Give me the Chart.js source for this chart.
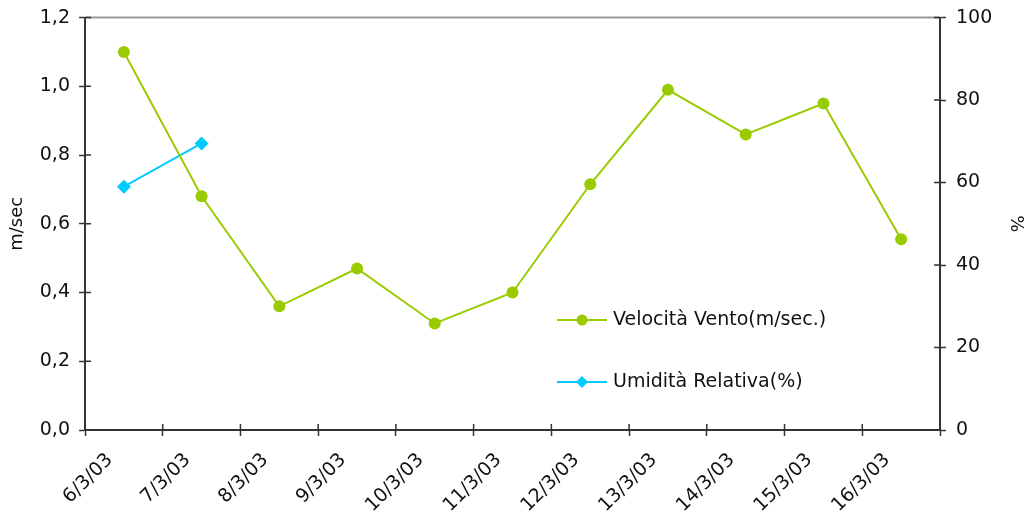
<!DOCTYPE html>
<html>
<head>
<meta charset="utf-8">
<script src="https://cdn.jsdelivr.net/npm/chart.js@4"></script>
<style>
  html, body { margin: 0; padding: 0; background: #fff; }
  #wrap { width: 1032px; height: 522px; }
</style>
</head>
<body>
<div id="wrap"><canvas id="myChart" width="1032" height="522"></canvas></div>
<script>
// data
const giorni = ['6/3/03', '7/3/03', '8/3/03', '9/3/03', '10/3/03', '11/3/03', '12/3/03', '13/3/03', '14/3/03', '15/3/03', '16/3/03'];
const velocita = [1.10, 0.68, 0.36, 0.47, 0.31, 0.40, 0.715, 0.99, 0.86, 0.95, 0.555];
const umidita = [59, 69.5, null, null, null, null, null, null, null, null, null];
const ticksSinistra = [0, 0.2, 0.4, 0.6, 0.8, 1.0, 1.2];
const ticksDestra = [0, 20, 40, 60, 80, 100];

const verde = '#99cc00';
const azzurro = '#00ccff';
const font = 'DejaVu Sans';

// legend inside the plot area + inward half of the tick marks
const legendaInterna = {
  id: 'legendaInterna',
  afterDraw(chart) {
    const ctx = chart.ctx;
    const area = chart.chartArea;
    ctx.save();
    // grey top border of plot area
    ctx.strokeStyle = '#999';
    ctx.lineWidth = 2;
    ctx.beginPath();
    ctx.moveTo(area.left, area.top);
    ctx.lineTo(area.right, area.top);
    ctx.stroke();

    // ticks crossing the axes
    ctx.strokeStyle = '#333';
    ctx.lineWidth = 1.5;
    ctx.beginPath();
    const sx = chart.scales.x;
    for (let i = 0; i <= giorni.length; i++) {
      const px = sx.getPixelForTick(0) + (i - 0.5) * (sx.getPixelForTick(1) - sx.getPixelForTick(0));
      ctx.moveTo(px, area.bottom);
      ctx.lineTo(px, area.bottom - 6);
    }
    ticksSinistra.forEach(v => {
      const py = chart.scales.y.getPixelForValue(v);
      ctx.moveTo(area.left, py);
      ctx.lineTo(area.left + 6, py);
    });
    ticksDestra.forEach(v => {
      const py = chart.scales.y1.getPixelForValue(v);
      ctx.moveTo(area.right, py);
      ctx.lineTo(area.right - 6, py);
    });
    ctx.stroke();

    const voci = [
      {text: 'Velocità Vento(m/sec.)', color: verde, style: 'circle', y: 320},
      {text: 'Umidità Relativa(%)', color: azzurro, style: 'diamond', y: 382}
    ];
    voci.forEach(v => {
      ctx.strokeStyle = v.color;
      ctx.lineWidth = 2;
      ctx.beginPath();
      ctx.moveTo(557, v.y);
      ctx.lineTo(607, v.y);
      ctx.stroke();
      ctx.fillStyle = v.color;
      ctx.beginPath();
      if (v.style === 'circle') {
        ctx.arc(582, v.y, 5.5, 0, Math.PI * 2);
      } else {
        ctx.moveTo(582, v.y - 6);
        ctx.lineTo(588, v.y);
        ctx.lineTo(582, v.y + 6);
        ctx.lineTo(576, v.y);
        ctx.closePath();
      }
      ctx.fill();
      ctx.fillStyle = '#111';
      ctx.font = '19px "' + font + '"';
      ctx.textBaseline = 'middle';
      ctx.textAlign = 'left';
      ctx.fillText(v.text, 613, v.y);
    });
    ctx.restore();
  }
};

function makeChart() {
  Chart.defaults.font.family = font;
  Chart.defaults.color = '#111';
  let ctx = document.getElementById('myChart').getContext('2d');
  new Chart(ctx, {
    type: 'line',
    data: {
      labels: giorni,
      datasets: [
        {
          label: 'Velocità Vento(m/sec.)',
          data: velocita,
          yAxisID: 'y',
          borderColor: verde,
          backgroundColor: verde,
          borderWidth: 2,
          pointStyle: 'circle',
          pointRadius: 6,
          pointBorderWidth: 0,
          tension: 0
        },
        {
          label: 'Umidità Relativa(%)',
          data: umidita,
          yAxisID: 'y1',
          borderColor: azzurro,
          backgroundColor: azzurro,
          borderWidth: 2,
          pointStyle: 'rectRot',
          pointRadius: 7,
          pointBorderWidth: 0,
          spanGaps: false,
          tension: 0
        }
      ]
    },
    options: {
      responsive: false,
      animation: false,
      layout: { padding: { top: 15, left: 0, right: 0, bottom: 0 } },
      plugins: {
        legend: { display: false },
        tooltip: { enabled: false }
      },
      scales: {
        x: {
          offset: true,
          grid: { offset: true, drawOnChartArea: false, color: '#333', tickLength: 6, tickWidth: 1.5 },
          border: { color: '#333', width: 2 },
          ticks: { minRotation: 45, maxRotation: 45, autoSkip: false, font: { size: 19 }, padding: 13, labelOffset: -14 },
          afterFit(s) { s.height = 92; }
        },
        y: {
          position: 'left',
          min: 0,
          max: 1.2,
          afterBuildTicks(s) { s.ticks = ticksSinistra.map(v => ({value: v})); },
          ticks: {
            font: { size: 19, lineHeight: 0.8 },
            padding: 9,
            callback: v => v.toFixed(1).replace('.', ',')
          },
          grid: { drawOnChartArea: false, color: '#333', tickLength: 6, tickWidth: 1.5 },
          border: { color: '#333', width: 2 },
          title: { display: true, text: 'm/sec', font: { size: 18 }, padding: { top: 7, bottom: 0 } },
          afterFit(s) { s.width = 85; }
        },
        y1: {
          position: 'right',
          min: 0,
          max: 100,
          afterBuildTicks(s) { s.ticks = ticksDestra.map(v => ({value: v})); },
          ticks: { font: { size: 19, lineHeight: 0.8 }, padding: 10 },
          grid: { drawOnChartArea: false, color: '#333', tickLength: 6, tickWidth: 1.5 },
          border: { color: '#333', width: 2 },
          title: { display: true, text: '%', font: { size: 18 }, padding: { top: 6, bottom: 0 } },
          afterFit(s) { s.width = 92; }
        }
      }
    },
    plugins: [legendaInterna]
  });
}

makeChart();
</script>
</body>
</html>
